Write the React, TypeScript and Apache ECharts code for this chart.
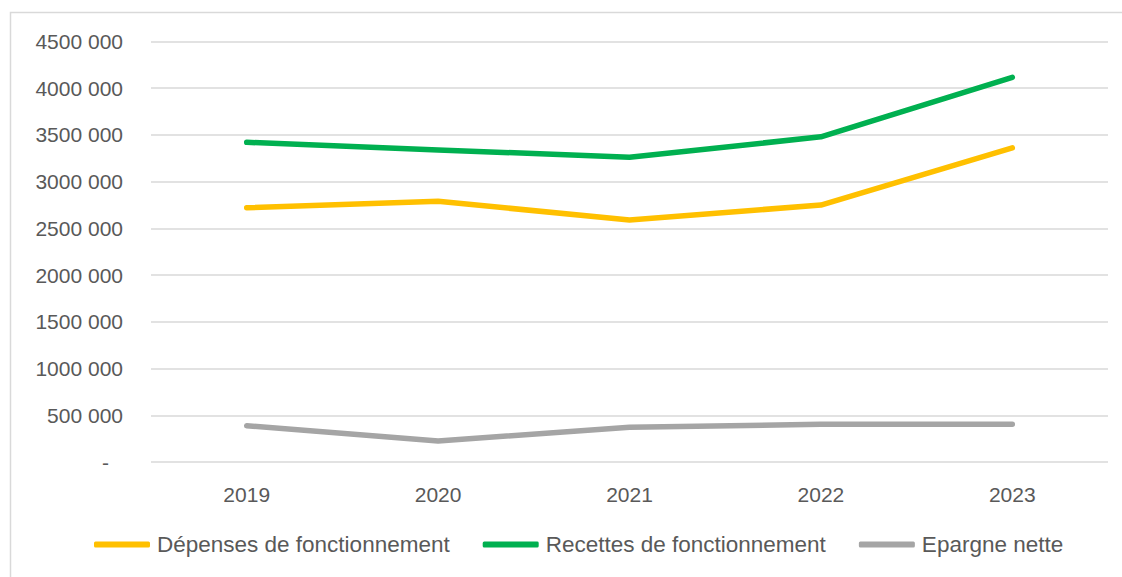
import React, { useEffect, useRef } from "react";
import * as echarts from "echarts";

const years = ["2019", "2020", "2021", "2022", "2023"];
const depenses = [2721000, 2790000, 2590000, 2750000, 3362000];
const recettes = [3421000, 3340000, 3261000, 3480000, 4117000];
const epargne = [388000, 225000, 371000, 403000, 403000];
const seriesNames = ["Dépenses de fonctionnement", "Recettes de fonctionnement", "Epargne nette"];
const colors = ["#FFC000", "#00B050", "#A5A5A5"];

const FONT = "'Liberation Sans', Arial, sans-serif";

function fmt(v: number): string {
  if (v === 0) return "{d|-}";
  const th = Math.floor(v / 1000);
  const rest = String(v % 1000).padStart(3, "0");
  return th + " " + rest;
}

export default function App() {
  const ref = useRef<HTMLDivElement>(null);
  useEffect(() => {
    const chart = echarts.init(ref.current!, null, { renderer: "svg" });
    const data = [depenses, recettes, epargne];
    chart.setOption({
      animation: false,
      backgroundColor: "#ffffff",
      graphic: [
        {
          type: "rect",
          shape: { x: 10.5, y: 12.5, width: 1130, height: 580 },
          style: { fill: "none", stroke: "#d9d9d9", lineWidth: 1.5 },
          silent: true,
        },
      ],
      grid: { left: 151, right: 14, top: 41.5, bottom: 115, containLabel: false },
      legend: {
        left: 94,
        top: 533,
        padding: 0,
        itemWidth: 56,
        itemHeight: 6,
        itemGap: 33,
        icon: "roundRect",
        textStyle: { color: "#595959", fontSize: 22.5, fontFamily: FONT, padding: [0, 0, 0, 2] },
        data: seriesNames,
      },
      xAxis: {
        type: "category",
        data: years,
        boundaryGap: true,
        axisLine: { show: false },
        axisTick: { show: false },
        axisLabel: { color: "#595959", fontSize: 21, fontFamily: FONT, margin: 22 },
      },
      yAxis: {
        type: "value",
        min: 0,
        max: 4500000,
        interval: 500000,
        axisLine: { show: false },
        axisTick: { show: false },
        splitLine: { lineStyle: { color: "#d9d9d9", width: 1.5 } },
        axisLabel: {
          color: "#595959",
          fontSize: 21,
          fontFamily: FONT,
          margin: 28,
          formatter: (v: number) => fmt(v),
          rich: { d: { color: "#595959", fontSize: 21, fontFamily: FONT, padding: [0, 14, 0, 0] } },
        },
      },
      series: seriesNames.map((n, i) => ({
        name: n,
        type: "line",
        data: data[i],
        symbol: "none",
        color: colors[i],
        lineStyle: { width: 5.5, color: colors[i], cap: "round", join: "round" },
      })),
    });
    return () => chart.dispose();
  }, []);
  return (
    <div
      ref={ref}
      style={{ position: "fixed", left: 0, top: 0, width: 1122, height: 577 }}
    />
  );
}
